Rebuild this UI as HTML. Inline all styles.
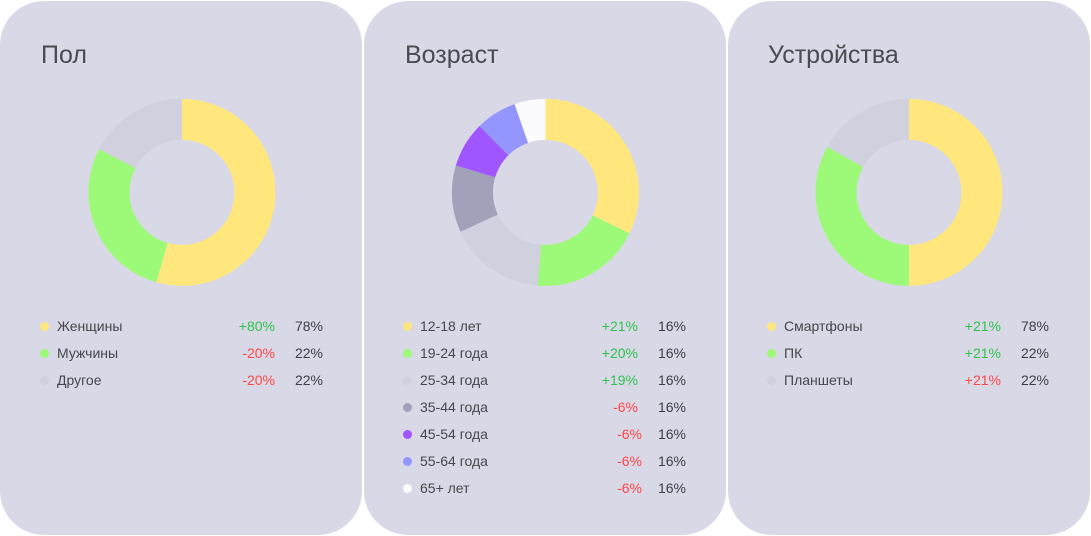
<!DOCTYPE html>
<html>
<head>
<meta charset="utf-8">
<style>
  html, body { margin:0; padding:0; background:#ffffff; }
  body { width:1091px; height:536px; position:relative; overflow:hidden;
         font-family:"Liberation Sans", "Noto Sans CJK SC", sans-serif; }
  .card { position:absolute; top:1px; width:362px; height:534px; background:#D9D8E6; border-radius:44px; }
  .title { position:absolute; top:41px; font-size:25px; line-height:28px; color:#4A4A50; white-space:nowrap; }
  .row { position:absolute; height:16px; font-size:14px; line-height:16px; white-space:nowrap; }
  .lbl { color:#46464E; }
  .dot { position:absolute; width:9px; height:9px; border-radius:50%; }
  .chg { position:absolute; width:80px; text-align:right; font-size:14px; line-height:16px; }
  .pct { position:absolute; width:60px; text-align:right; font-size:14px; line-height:16px; color:#3E3E46; }
  .g { color:#2EC44D; }
  .r { color:#FF4646; }
  svg { position:absolute; left:0; top:0; }
</style>
</head>
<body>
<div class="card" style="left:0px;"></div>
<div class="card" style="left:364px;"></div>
<div class="card" style="left:728px;"></div>

<svg width="1091" height="536" viewBox="0 0 1091 536">
  <!-- Donut 1 -->
  <g transform="translate(182,192.4) rotate(-90)" fill="none" stroke-width="41">
    <circle r="73" stroke="#FFE77E" stroke-dasharray="249.57 458.67" stroke-dashoffset="0"/>
    <circle r="73" stroke="#9DFA78" stroke-dasharray="129.32 458.67" stroke-dashoffset="-249.57"/>
    <circle r="73" stroke="#D1D0DF" stroke-dasharray="79.63 458.67" stroke-dashoffset="-379.05"/>
  </g>
  <!-- Donut 2 -->
  <g transform="translate(545.4,192.4) rotate(-90)" fill="none" stroke-width="41">
    <circle r="73" stroke="#FFE77E" stroke-dasharray="147.79 458.67" stroke-dashoffset="0"/>
    <circle r="73" stroke="#9DFA78" stroke-dasharray="87.53 458.67" stroke-dashoffset="-147.79"/>
    <circle r="73" stroke="#D1D0DF" stroke-dasharray="76.83 458.67" stroke-dashoffset="-235.32"/>
    <circle r="73" stroke="#A1A1B9" stroke-dasharray="53.0 458.67" stroke-dashoffset="-312.15"/>
    <circle r="73" stroke="#A056FF" stroke-dasharray="36.18 458.67" stroke-dashoffset="-365.15"/>
    <circle r="73" stroke="#9595FF" stroke-dasharray="32.62 458.67" stroke-dashoffset="-401.34"/>
    <circle r="73" stroke="#FBFBFD" stroke-dasharray="24.72 458.67" stroke-dashoffset="-433.95"/>
  </g>
  <!-- Donut 3 -->
  <g transform="translate(909,192.4) rotate(-90)" fill="none" stroke-width="41">
    <circle r="73" stroke="#FFE77E" stroke-dasharray="229.34 458.67" stroke-dashoffset="0"/>
    <circle r="73" stroke="#9DFA78" stroke-dasharray="151.62 458.67" stroke-dashoffset="-229.34"/>
    <circle r="73" stroke="#D1D0DF" stroke-dasharray="77.72 458.67" stroke-dashoffset="-380.95"/>
  </g>
</svg>

<!-- Titles -->
<div class="title" style="left:41px;">Пол</div>
<div class="title" style="left:405px;">Возраст</div>
<div class="title" style="left:768px;">Устройства</div>

<!-- Card 1 legend -->
<div class="dot" style="left:40px;top:322px;background:#FFE77E;"></div>
<div class="row lbl" style="left:57px;top:318px;">Женщины</div>
<div class="chg g" style="left:195px;top:318px;">+80%</div>
<div class="pct" style="left:263px;top:318px;">78%</div>

<div class="dot" style="left:40px;top:349px;background:#9DFA78;"></div>
<div class="row lbl" style="left:57px;top:345px;">Мужчины</div>
<div class="chg r" style="left:195px;top:345px;">-20%</div>
<div class="pct" style="left:263px;top:345px;">22%</div>

<div class="dot" style="left:40px;top:376px;background:#D1D0DF;"></div>
<div class="row lbl" style="left:57px;top:372px;">Другое</div>
<div class="chg r" style="left:195px;top:372px;">-20%</div>
<div class="pct" style="left:263px;top:372px;">22%</div>

<!-- Card 2 legend -->
<div class="dot" style="left:403px;top:322px;background:#FFE77E;"></div>
<div class="row lbl" style="left:420px;top:318px;">12-18 лет</div>
<div class="chg g" style="left:558px;top:318px;">+21%</div>
<div class="pct" style="left:626px;top:318px;">16%</div>

<div class="dot" style="left:403px;top:349px;background:#9DFA78;"></div>
<div class="row lbl" style="left:420px;top:345px;">19-24 года</div>
<div class="chg g" style="left:558px;top:345px;">+20%</div>
<div class="pct" style="left:626px;top:345px;">16%</div>

<div class="dot" style="left:403px;top:376px;background:#D1D0DF;"></div>
<div class="row lbl" style="left:420px;top:372px;">25-34 года</div>
<div class="chg g" style="left:558px;top:372px;">+19%</div>
<div class="pct" style="left:626px;top:372px;">16%</div>

<div class="dot" style="left:403px;top:403px;background:#A1A1B9;"></div>
<div class="row lbl" style="left:420px;top:399px;">35-44 года</div>
<div class="chg r" style="left:558px;top:399px;">-6%</div>
<div class="pct" style="left:626px;top:399px;">16%</div>

<div class="dot" style="left:403px;top:430px;background:#A056FF;"></div>
<div class="row lbl" style="left:420px;top:426px;">45-54 года</div>
<div class="chg r" style="left:562px;top:426px;">-6%</div>
<div class="pct" style="left:626px;top:426px;">16%</div>

<div class="dot" style="left:403px;top:457px;background:#9595FF;"></div>
<div class="row lbl" style="left:420px;top:453px;">55-64 года</div>
<div class="chg r" style="left:562px;top:453px;">-6%</div>
<div class="pct" style="left:626px;top:453px;">16%</div>

<div class="dot" style="left:403px;top:484px;background:#FBFBFD;"></div>
<div class="row lbl" style="left:420px;top:480px;">65+ лет</div>
<div class="chg r" style="left:562px;top:480px;">-6%</div>
<div class="pct" style="left:626px;top:480px;">16%</div>

<!-- Card 3 legend -->
<div class="dot" style="left:767px;top:322px;background:#FFE77E;"></div>
<div class="row lbl" style="left:784px;top:318px;">Смартфоны</div>
<div class="chg g" style="left:921px;top:318px;">+21%</div>
<div class="pct" style="left:989px;top:318px;">78%</div>

<div class="dot" style="left:767px;top:349px;background:#9DFA78;"></div>
<div class="row lbl" style="left:784px;top:345px;">ПК</div>
<div class="chg g" style="left:921px;top:345px;">+21%</div>
<div class="pct" style="left:989px;top:345px;">22%</div>

<div class="dot" style="left:767px;top:376px;background:#D1D0DF;"></div>
<div class="row lbl" style="left:784px;top:372px;">Планшеты</div>
<div class="chg r" style="left:921px;top:372px;">+21%</div>
<div class="pct" style="left:989px;top:372px;">22%</div>
</body>
</html>
